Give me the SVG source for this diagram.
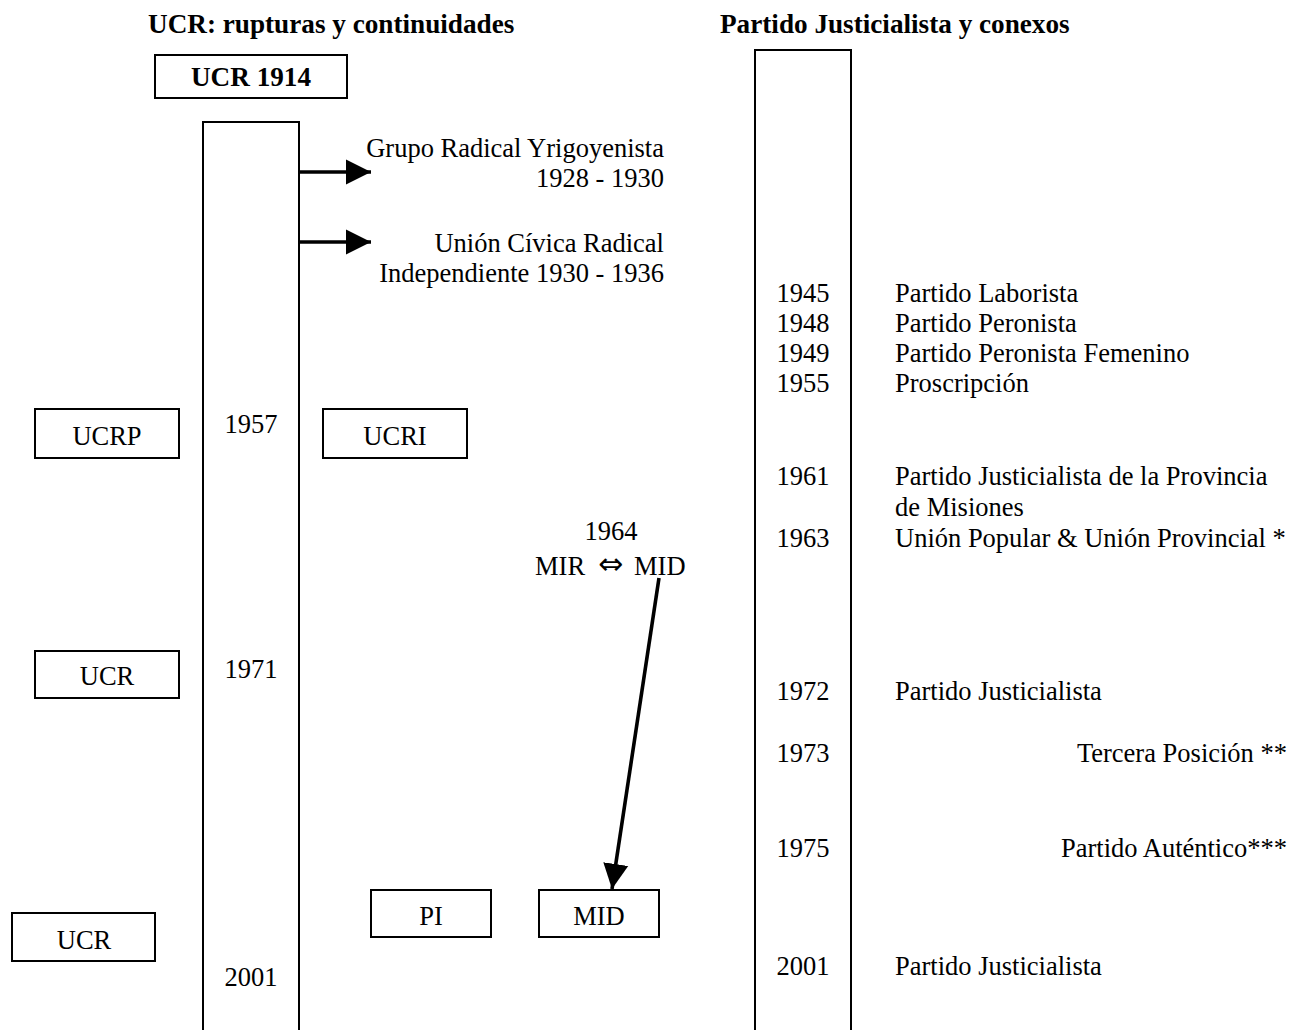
<svg xmlns="http://www.w3.org/2000/svg" width="1290" height="1030" viewBox="0 0 1290 1030">
<style>
text { font-family: "Liberation Serif", "DejaVu Serif", serif; font-size: 26.5px; fill: #000; }
.b { font-weight: bold; font-size: 27.2px; }
.m { text-anchor: middle; }
.r { text-anchor: end; }
.sym { font-family: "DejaVu Sans", sans-serif; font-size: 30px; }
.box { fill: #fff; stroke: #000; stroke-width: 2; }
.col { fill: none; stroke: #000; stroke-width: 2; }
.arr { stroke: #000; stroke-width: 3.6; fill: none; }
</style>
<defs>
<marker id="ah" viewBox="0 0 10 10" refX="10" refY="5" markerWidth="7" markerHeight="7.2" markerUnits="strokeWidth" orient="auto">
<path d="M0,0 L10,5 L0,10 Z" fill="#000"/>
</marker>
</defs>
<rect width="1290" height="1030" fill="#fff"/>

<text id="title-ucr" class="b" x="148" y="33">UCR: rupturas y continuidades</text>
<text id="title-pj" class="b" x="720" y="33">Partido Justicialista y conexos</text>

<g id="ucr1914"><rect class="box" x="155" y="55" width="192" height="43"/><text class="b m" x="251" y="86">UCR 1914</text></g>

<g id="ucr-column"><rect class="col" x="203" y="122" width="96" height="930"/>
<text class="m" x="251" y="433">1957</text>
<text class="m" x="251" y="678">1971</text>
<text class="m" x="251" y="986">2001</text>
</g>

<g id="gry"><text class="r" x="664" y="157">Grupo Radical Yrigoyenista</text><text class="r" x="664" y="187">1928 - 1930</text></g>
<g id="ucri-1930"><text class="r" x="664" y="252">Unión Cívica Radical</text><text class="r" x="664" y="282">Independiente 1930 - 1936</text></g>

<g id="ucrp"><rect class="box" x="35" y="409" width="144" height="49"/><text class="m" x="107" y="445">UCRP</text></g>
<g id="ucri"><rect class="box" x="323" y="409" width="144" height="49"/><text class="m" x="395" y="445">UCRI</text></g>
<g id="ucr1971"><rect class="box" x="35" y="651" width="144" height="47"/><text class="m" x="107" y="685">UCR</text></g>
<g id="ucr2001"><rect class="box" x="12" y="913" width="143" height="48"/><text class="m" x="84" y="949">UCR</text></g>
<g id="pi"><rect class="box" x="371" y="890" width="120" height="47"/><text class="m" x="431" y="925">PI</text></g>
<g id="mid"><rect class="box" x="539" y="890" width="120" height="47"/><text class="m" x="599" y="925">MID</text></g>

<g id="mir-mid"><text class="m" x="611" y="540">1964</text>
<text x="535" y="575">MIR <tspan class="sym" x="598" y="574">⇔</tspan><tspan x="634" y="575">MID</tspan></text></g>

<g id="pj-column"><rect class="col" x="755" y="50" width="96" height="1000"/>
<text class="m" x="803" y="302">1945</text><text x="895" y="302">Partido Laborista</text>
<text class="m" x="803" y="332">1948</text><text x="895" y="332">Partido Peronista</text>
<text class="m" x="803" y="362">1949</text><text x="895" y="362">Partido Peronista Femenino</text>
<text class="m" x="803" y="392">1955</text><text x="895" y="392">Proscripción</text>
<text class="m" x="803" y="485">1961</text><text x="895" y="485">Partido Justicialista de la Provincia</text>
<text x="895" y="516">de Misiones</text>
<text class="m" x="803" y="547">1963</text><text x="895" y="547">Unión Popular &amp; Unión Provincial *</text>
<text class="m" x="803" y="700">1972</text><text x="895" y="700">Partido Justicialista</text>
<text class="m" x="803" y="762">1973</text><text class="r" x="1287" y="762">Tercera Posición **</text>
<text class="m" x="803" y="857">1975</text><text class="r" x="1287" y="857">Partido Auténtico***</text>
<text class="m" x="803" y="975">2001</text><text x="895" y="975">Partido Justicialista</text>
</g>

<g id="connectors">
<line class="arr" x1="299" y1="172" x2="371" y2="172" marker-end="url(#ah)"/>
<line class="arr" x1="299" y1="242" x2="371" y2="242" marker-end="url(#ah)"/>
<line class="arr" x1="659" y1="578" x2="612" y2="889" marker-end="url(#ah)"/>
</g>
</svg>
